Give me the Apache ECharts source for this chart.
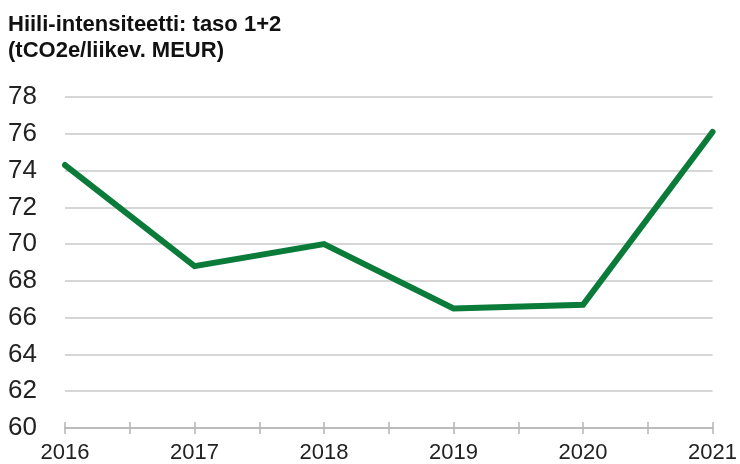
<!DOCTYPE html>
<html>
<head>
<meta charset="utf-8">
<script src="https://cdn.jsdelivr.net/npm/echarts@6/dist/echarts.min.js"></script>
<style>
html,body{margin:0;padding:0;background:#fff;}
#c{width:740px;height:464px;}
</style>
</head>
<body>
<div id="c"></div>
<script>
var years = [2016, 2017, 2018, 2019, 2020, 2021];
var intensity = [74.3, 68.8, 70.0, 66.5, 66.7, 76.1];
var titleLines = ['Hiili-intensiteetti: taso 1+2', '(tCO2e/liikev. MEUR)'];

var font = '"Liberation Sans", Arial, sans-serif';
var chart = echarts.init(document.getElementById('c'));
var axisLineStyle = {color: '#b4b4b4', width: 1.5};
chart.setOption({
  animation: false,
  title: {
    text: titleLines.join('\n'),
    left: 8, top: 12, padding: 0,
    textStyle: {fontFamily: font, fontSize: 22, fontWeight: 'bold', color: '#111', lineHeight: 26}
  },
  grid: {left: 65, right: 25, top: 97, bottom: 36, containLabel: false},
  xAxis: [{
    type: 'value', min: years[0], max: years[years.length - 1], interval: 1,
    position: 'bottom',
    splitLine: {show: false},
    axisLine: {show: true, lineStyle: axisLineStyle},
    axisTick: {show: false},
    axisLabel: {margin: 14, fontFamily: font, fontSize: 22, color: '#222',
      formatter: function (v) { return String(v); }}
  }, {
    type: 'value', min: years[0], max: years[years.length - 1], interval: 1,
    position: 'bottom', offset: -6,
    splitLine: {show: false},
    axisLine: {show: false},
    axisTick: {show: true, length: 12, lineStyle: axisLineStyle},
    minorTick: {show: true, splitNumber: 2, length: 12, lineStyle: axisLineStyle},
    axisLabel: {show: false}
  }],
  yAxis: {
    type: 'value', min: 60, max: 78, interval: 2,
    axisLine: {show: false}, axisTick: {show: false},
    splitLine: {lineStyle: {color: '#c8c8c8', width: 1.5}},
    axisLabel: {margin: 28, fontFamily: font, fontSize: 26, color: '#222'}
  },
  series: [{
    type: 'line',
    data: years.map(function (y, i) { return [y, intensity[i]]; }),
    symbol: 'none',
    lineStyle: {color: '#0b7b3a', width: 6, cap: 'round', join: 'miter'}
  }]
});
</script>
</body>
</html>
